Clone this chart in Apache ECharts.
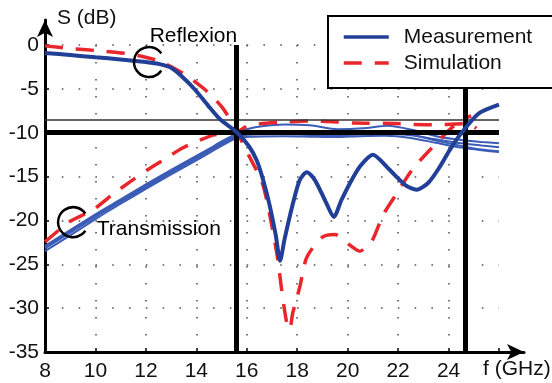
<!DOCTYPE html>
<html>
<head>
<meta charset="utf-8">
<script src="https://cdn.jsdelivr.net/npm/echarts@6/dist/echarts.min.js"></script>
<style>
  html, body { margin: 0; padding: 0; background: #fff; }
  #chart { width: 552px; height: 383px; }
</style>
</head>
<body>
<div id="chart"></div>
<script>
// Frequency ticks (GHz) and level ticks (dB)
const xTickLabels = [8, 10, 12, 14, 16, 18, 20, 22, 24];
const yTickLabels = [-35, -30, -25, -20, -15, -10, -5, 0];

// Reflexion (S11), measured: [f GHz, dB]
const s11Measured = [
  [8.0, -0.9], [9.0, -1.15], [10.0, -1.4], [11.0, -1.65], [12.0, -1.95], [12.5, -2.15],
  [13.0, -2.6], [13.45, -3.65], [13.95, -5.1], [14.45, -6.85], [14.95, -8.5], [15.6, -9.95],
  [16.1, -11.6], [16.4, -13.2], [16.65, -15.4], [16.9, -18.2], [17.15, -21.7], [17.32, -24.6],
  [17.5, -22.1], [17.8, -18.4], [18.1, -15.4], [18.38, -14.5], [18.7, -15.4], [19.15, -18.0],
  [19.45, -19.6], [19.75, -17.7], [20.1, -15.7], [20.5, -13.8], [21.0, -12.5], [21.65, -14.2],
  [22.3, -16.0], [22.73, -16.5], [23.2, -15.7], [23.65, -13.9], [24.05, -11.95], [24.55, -9.9],
  [25.2, -7.8], [26.0, -6.8]
];

// Reflexion (S11), simulated
const s11Simulated = [
  [8.0, -0.1], [9.0, -0.4], [10.3, -0.7], [11.4, -1.05], [12.5, -1.8], [13.45, -3.2],
  [14.35, -5.1], [15.05, -7.2], [15.6, -9.85], [16.1, -12.7], [16.6, -15.6], [16.85, -18.5],
  [17.2, -23.9], [17.42, -28.7], [17.6, -31.9], [17.7, -32.4], [17.82, -30.6], [18.1, -27.6],
  [18.38, -24.2], [19.0, -21.9], [19.5, -21.6], [20.08, -22.8], [20.48, -23.5], [20.95, -22.4],
  [21.4, -19.4], [21.95, -16.9], [22.55, -14.25], [23.25, -12.0], [24.1, -9.5], [24.7, -8.3],
  [24.9, -8.1]
];

// Transmission (S21), simulated
const s21Simulated = [
  [8.0, -22.45], [9.0, -20.1], [9.9, -18.8], [10.65, -17.1], [11.3, -15.75], [12.05, -14.25],
  [12.7, -13.1], [13.45, -11.75], [14.15, -10.85], [14.7, -10.25], [15.6, -9.9], [16.1, -9.15],
  [17.4, -8.8], [18.5, -8.65], [19.4, -8.75], [20.3, -8.9], [21.9, -8.95], [22.6, -9.05],
  [23.5, -9.1], [24.3, -9.0], [24.8, -8.95], [25.1, -9.5]
];

// Transmission (S21), measured on four samples
const s21MeasuredA = [
  [8, -22.9], [9, -21.1], [10, -19.3], [11, -17.6], [12, -15.9], [13, -14.25], [14, -12.65],
  [14.5, -11.85], [15, -11.0], [15.6, -10.1], [16, -9.6], [16.6, -9.25], [17.5, -9.05],
  [18.5, -9.15], [19.6, -9.6], [20.6, -9.5], [21.6, -9.2], [22.6, -9.7], [23.6, -10.45],
  [24.6, -10.85], [25.3, -11.05], [26, -11.2]
];
const s21MeasuredB = [
  [8, -23.2], [9, -21.4], [10, -19.6], [11, -17.9], [12, -16.2], [13, -14.55], [14, -12.95],
  [15, -11.3], [15.6, -10.4], [16.3, -10.2], [17.5, -10.15], [18.5, -10.25], [19.5, -10.3],
  [20.5, -10.2], [21.5, -10.1], [22.5, -10.3], [23.5, -10.75], [24.5, -11.2], [25.3, -11.45],
  [26, -11.65]
];
const s21MeasuredC = [
  [8, -23.5], [9, -21.7], [10, -19.85], [11, -18.1], [12, -16.4], [13, -14.75], [14, -13.15],
  [15, -11.5], [15.6, -10.6], [16.3, -10.45], [17.5, -10.4], [18.5, -10.45], [19.5, -10.5],
  [20.5, -10.4], [21.5, -10.35], [22.5, -10.6], [23.5, -11.15], [24.5, -11.7], [25.3, -12.0],
  [26, -12.2]
];
const s21MeasuredD = [
  [8, -23.0], [9, -21.25], [10, -19.45], [11, -17.75], [12, -16.05], [13, -14.4], [14, -12.8],
  [15, -11.2], [15.6, -10.3], [16.3, -10.05], [17.5, -10.0], [18.5, -10.15], [19.5, -10.2],
  [20.5, -10.0], [21.5, -9.9], [22.5, -10.2], [23.5, -10.9], [24.5, -11.5], [25.3, -11.9],
  [26, -12.1]
];

// Reference levels (dB) and band edges (GHz)
const levelThick = -10;
const levelThin = -8.5;
const bandEdges = [15.6, 24.67];

// Curve call-outs
const callouts = [
  { name: 'Reflexion', at: [12.07, -1.94] },
  { name: 'Transmission', at: [9.06, -20.2] }
];

const FONT = 'Liberation Sans, Arial, Helvetica, sans-serif';
const BLUE_DARK = '#223f98';
const BLUE = '#3a5cb6';
const RED = '#e8262b';
const DASH = [18, 13];

const chart = echarts.init(document.getElementById('chart'), null, { renderer: 'canvas' });

const xMin = xTickLabels[0], xMax = 26;
const yMin = yTickLabels[0], yMax = yTickLabels[yTickLabels.length - 1];

function measured(data, width, color, z) {
  return {
    type: 'line', name: 'Measurement', data: data, symbol: 'none', smooth: 0.25, clip: false,
    lineStyle: { color: color, width: width }, itemStyle: { color: color }, z: z
  };
}
function simulated(data) {
  return {
    type: 'line', name: 'Simulation', data: data, symbol: 'none', smooth: 0.25, clip: false,
    lineStyle: { color: RED, width: 3.5, type: DASH }, itemStyle: { color: RED }, z: 4
  };
}

const option = {
  animation: false,
  backgroundColor: '#fff',
  textStyle: { fontFamily: FONT },
  grid: [
    { left: 45, top: 45, width: 454, height: 307 },
    { left: 45, top: 20, width: 479, height: 332 }
  ],
  xAxis: [
    {
      type: 'value', gridIndex: 0, min: xMin, max: xMax, interval: 2,
      axisLine: { show: false, onZero: false },
      axisTick: { show: true, inside: true, length: 4, lineStyle: { color: '#000', width: 1.5 } },
      axisLabel: {
        margin: 9, fontSize: 21, color: '#111', fontFamily: FONT,
        formatter: v => (xTickLabels.indexOf(v) >= 0 ? String(v) : '')
      },
      splitLine: {
        show: true, showMinLine: false, showMaxLine: false,
        lineStyle: { color: '#555', width: 1.6, type: [1.6, 15.4] }
      }
    },
    {
      type: 'value', gridIndex: 1, min: 0, max: 1,
      axisLine: {
        show: true, onZero: false, symbol: ['none', 'arrow'], symbolSize: [12, 17],
        lineStyle: { color: '#000', width: 3 }
      },
      axisTick: { show: false }, axisLabel: { show: false }, splitLine: { show: false }
    }
  ],
  yAxis: [
    {
      type: 'value', gridIndex: 0, min: yMin, max: yMax, interval: 5,
      axisLine: { show: false, onZero: false },
      axisTick: { show: true, inside: true, length: 4, lineStyle: { color: '#000', width: 1.5 } },
      axisLabel: { margin: 6, fontSize: 21, color: '#111', fontFamily: FONT },
      splitLine: {
        show: true, showMinLine: false,
        lineStyle: { color: '#555', width: 1.6, type: [1.6, 15.2] }
      }
    },
    {
      type: 'value', gridIndex: 1, min: 0, max: 1,
      axisLine: {
        show: true, onZero: false, symbol: ['none', 'arrow'], symbolSize: [12, 17],
        lineStyle: { color: '#000', width: 3 }
      },
      axisTick: { show: false }, axisLabel: { show: false }, splitLine: { show: false }
    }
  ],
  legend: {
    data: ['Measurement', 'Simulation'],
    orient: 'vertical',
    left: 328, top: 16,
    padding: [10, 25, 14, 14],
    itemWidth: 45, itemHeight: 14, itemGap: 4,
    backgroundColor: '#fff',
    borderColor: '#000', borderWidth: 2, borderRadius: 0,
    itemStyle: { color: 'rgba(0,0,0,0)', borderWidth: 0, opacity: 0 },
    lineStyle: { width: 3.5 },
    textStyle: { fontSize: 21, color: '#111', fontFamily: FONT, lineHeight: 22, padding: [0, 0, 0, 10] },
    z: 10
  },
  graphic: [
    { type: 'text', left: 57, top: 8, style: { text: 'S (dB)', font: '21px ' + FONT, fill: '#111' } },
    { type: 'text', left: 483, top: 359, style: { text: 'f (GHz)', font: '21px ' + FONT, fill: '#111' } }
  ],
  series: [
    measured(s11Measured, 4, BLUE_DARK, 5),
    measured(s21MeasuredA, 2, BLUE, 3),
    measured(s21MeasuredB, 2, BLUE, 3),
    measured(s21MeasuredC, 2, BLUE, 3),
    measured(s21MeasuredD, 2, BLUE, 3),
    simulated(s11Simulated),
    simulated(s21Simulated),
    {
      // reference levels and band edges
      type: 'line', data: [], symbol: 'none', silent: true, z: 6,
      markLine: {
        silent: true, symbol: 'none', animation: false,
        label: { show: false },
        data: [
          [{ coord: [xMin, levelThin], lineStyle: { color: '#333', width: 1.6, type: 'solid' } },
           { coord: [xMax, levelThin] }],
          [{ coord: [xMin, levelThick], lineStyle: { color: '#000', width: 5, type: 'solid' } },
           { coord: [xMax, levelThick] }],
          ...bandEdges.map(f => [
            { coord: [f, yMax], lineStyle: { color: '#000', width: 5, type: 'solid' } },
            { coord: [f, yMin] }
          ])
        ]
      }
    },
    {
      // call-out arcs with their captions
      type: 'scatter', silent: true, z: 7,
      symbol: 'path://M27.29 6.4 A15 15 0 1 0 27.29 23.6',
      symbolSize: [27.3, 30],
      itemStyle: { color: 'rgba(0,0,0,0)', borderColor: '#000', borderWidth: 2.5, opacity: 1 },
      label: {
        show: true, position: 'inside', align: 'left', verticalAlign: 'middle', opacity: 1,
        fontSize: 21, color: '#000', fontFamily: FONT, formatter: p => p.name
      },
      data: [
        { name: callouts[0].name, value: callouts[0].at, label: { offset: [2, -26] } },
        { name: callouts[1].name, value: callouts[1].at, label: { offset: [25, 7] } }
      ]
    }
  ]
};

chart.setOption(option);
</script>
</body>
</html>
